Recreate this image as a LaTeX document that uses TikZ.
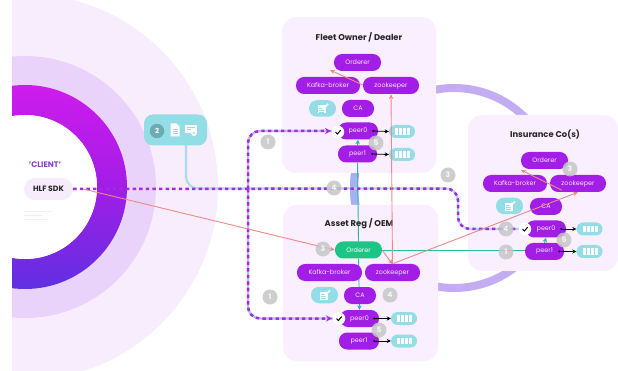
\documentclass[tikz,border=0pt]{standalone}
\usepackage{fontspec}
\setmainfont{Poppins}
\usetikzlibrary{arrows.meta,calc}
\pgfdeclarelayer{bg}\pgfdeclarelayer{lines}
\pgfsetlayers{bg,lines,main}
\definecolor{pillcol}{HTML}{A21DE6}
\definecolor{boxbg}{HTML}{F9EFFE}
\definecolor{tealbox}{HTML}{93DDE6}
\definecolor{salmon}{HTML}{EC8A86}
\definecolor{greenline}{HTML}{25C090}
\definecolor{greenpillcol}{HTML}{1CC583}
\definecolor{tealline}{HTML}{28B4AE}
\definecolor{dashcol}{HTML}{A52BE0}
\definecolor{lilac}{HTML}{C3ACF2}
\definecolor{bluebar}{HTML}{A3B3F2}
\definecolor{palelink}{HTML}{A9DCEA}
\definecolor{ringouter}{HTML}{F8EDFD}
\definecolor{ringmid}{HTML}{EAD3FA}
\definecolor{ringtop}{HTML}{CE1CEE}
\definecolor{ringbot}{HTML}{5F30E2}
\definecolor{sdkbg}{HTML}{F6ECFC}
\definecolor{clienttxt}{HTML}{8A3FD0}
\definecolor{twocol}{HTML}{6FA9B4}
\tikzset{
  x=1pt,y=-1pt,
  org/.style={fill=boxbg,rounded corners=14},
  titletext/.style={font=\fontsize{8.4}{10}\selectfont\bfseries,text=black!85},
  pillnode/.style={fill=pillcol,text=white!88!pillcol,rounded corners=8.2,minimum height=17,inner sep=0,font=\fontsize{6.4}{7}\selectfont},
  greenpill/.style={pillnode,fill=greenpillcol,text=white},
  badgenode/.style={fill=tealbox,rounded corners=8,minimum width=27,minimum height=16.5,inner sep=0},
  storenode/.style={fill=tealbox,rounded corners=6.5,minimum width=26,minimum height=13,inner sep=0},
  numnode/.style={circle,fill=gray!45,fill opacity=.85,text=white,minimum size=15,inner sep=0,font=\fontsize{7.5}{8}\selectfont\bfseries},
  chknode/.style={circle,fill=white,minimum size=12.5,inner sep=0},
  saltip/.style={salmon,line width=.9,-{Stealth[length=5,width=4.5]}},
  blacktip/.style={black,line width=.8,-{Stealth[length=4,width=4]}},
  dashline/.style={dashcol,line width=2.5,dash pattern=on 3.4pt off 3.2pt},
  dashtip/.style={dashline,-{Stealth[length=6,width=6]}},
}
\newcommand{\tickmark}[1]{\draw[black,line width=1,line cap=round] ($(#1)+(-2.4,.2)$) -- ($(#1)+(-.6,2)$) -- ($(#1)+(2.6,-1.8)$);}
\newcommand{\barsin}[1]{\foreach \dx in {-5.2,-1.2,2.8,6.8}{\fill[white] ($(#1)+(\dx-1.5,-3.4)$) rectangle ($(#1)+(\dx+1.5,3.4)$);}}
\newcommand{\penicon}[1]{\fill[white] ($(#1)+(-5,-3)$) rectangle ($(#1)+(3,5)$);
  \draw[tealbox,line width=.7] ($(#1)+(-3.5,-.5)$) -- ($(#1)+(0,-.5)$) ($(#1)+(-3.5,1.5)$) -- ($(#1)+(1.5,1.5)$) ($(#1)+(-3.5,3.5)$) -- ($(#1)+(1.5,3.5)$);
  \draw[white,line width=1.6] ($(#1)+(0,1)$) -- ($(#1)+(5.5,-4.5)$);}
\newcommand{\peerarrow}[2]{\fill[black] ($(#1.east)+(-5,0)$) circle (1.1); \draw[blacktip] ($(#1.east)+(-5,0)$) -- (#2.west);}
\begin{document}
\begin{tikzpicture}
\useasboundingbox (0,0) rectangle (618,371);
\begin{pgfonlayer}{bg}
\fill[white] (0,0) rectangle (618,371);
% client rings
\begin{scope}
\clip (12,0) rectangle (618,371);
\fill[ringouter] (25,187) circle (193);
\fill[ringmid] (25,187) circle (131);
\path[even odd rule,top color=ringtop,bottom color=ringbot,middle color=pillcol] (25,187) circle (102) (25,187) circle (72);
\fill[white] (25,187) circle (72);
\end{scope}
% faint text lines
\draw[sdkbg,line width=1] (24,212) -- (53,212) (24,216) -- (42,216) (24,220) -- (47,220);
% large arc behind the organisations
\draw[lilac,line width=8] (454,188) circle (100);
\begin{scope}
\clip (340,170) rectangle (370,210);
\draw[bluebar,line width=8] (454,188) circle (100);
\end{scope}
% organisations
\fill[org] (282,17) rectangle (436,173);
\fill[org] (283,205) rectangle (438,361);
\fill[org] (468,115) rectangle (618,271);
\end{pgfonlayer}

% client
\node[text=clienttxt,font=\fontsize{8}{9}\selectfont\bfseries] (clientlbl) at (45,165) {'CLIENT'};
\node[fill=sdkbg,rounded corners=11,minimum width=49,minimum height=22,inner sep=0,font=\fontsize{7.7}{8}\selectfont\bfseries,text=black!85] (sdk) at (48.5,189) {HLF SDK};

% credential box
\node[fill=tealbox,rounded corners=9,minimum width=63,minimum height=31,inner sep=0] (cred) at (175.5,130) {};
\node[circle,fill=twocol,minimum size=14.5,inner sep=0,text=white,font=\fontsize{7}{8}\selectfont\bfseries] (two) at (157,131) {2};
\coordinate (doc) at (175,130);
\fill[white] ($(doc)+(-4.5,-6.5)$) -- ($(doc)+(1.5,-6.5)$) -- ($(doc)+(4.5,-3.5)$) -- ($(doc)+(4.5,6.5)$) -- ($(doc)+(-4.5,6.5)$) -- cycle;
\draw[tealbox,line width=.6] ($(doc)+(-2.5,-1)$) -- ($(doc)+(2.5,-1)$) ($(doc)+(-2.5,1.2)$) -- ($(doc)+(2.5,1.2)$) ($(doc)+(-2.5,3.4)$) -- ($(doc)+(2.5,3.4)$);
\coordinate (cert) at (191,130);
\fill[white] ($(cert)+(-6,-5)$) rectangle ($(cert)+(6,3.5)$);
\draw[tealbox,line width=.6] ($(cert)+(-4,-2.5)$) -- ($(cert)+(4,-2.5)$) ($(cert)+(-4,-.5)$) -- ($(cert)+(0,-.5)$);
\fill[white] ($(cert)+(3,3)$) circle (3);
\fill[tealbox] ($(cert)+(3,3)$) circle (1.2);

% Fleet Owner / Dealer
\node[titletext] (fleetT) at (359,37) {Fleet Owner / Dealer};
\node[pillnode,minimum width=47] (ordA) at (357.5,62.5) {Orderer};
\node[pillnode,minimum width=64] (kafA) at (328,85.5) {Kafka-broker};
\node[pillnode,minimum width=56] (zooA) at (391,85.5) {zookeeper};
\node[badgenode] (penA) at (322.5,108.5) {};
\node[pillnode,minimum width=32] (caA) at (358,108.5) {CA};
\node[pillnode,minimum width=40] (p0A) at (358,131) {peer0};
\node[pillnode,minimum width=39] (p1A) at (357.5,154) {peer1};
\node[storenode] (s0A) at (402,131.5) {};
\node[storenode] (s1A) at (402,154.5) {};
% Asset Reg / OEM
\node[titletext] (assetT) at (359,224) {Asset Reg / OEM};
\node[greenpill,minimum width=47] (ordB) at (358.5,250) {Orderer};
\node[pillnode,minimum width=65] (kafB) at (329.5,272.5) {Kafka-broker};
\node[pillnode,minimum width=55] (zooB) at (392.5,272.5) {zookeeper};
\node[badgenode] (penB) at (324.5,295) {};
\node[pillnode,minimum width=32] (caB) at (360,295.5) {CA};
\node[pillnode,minimum width=39] (p0B) at (359.5,318.5) {peer0};
\node[pillnode,minimum width=40] (p1B) at (359,341) {peer1};
\node[storenode] (s0B) at (404,318.5) {};
\node[storenode] (s1B) at (404,341) {};
% Insurance
\node[titletext] (insT) at (545,135) {Insurance Co(s)};
\node[pillnode,minimum width=47] (ordC) at (544.5,160.5) {Orderer};
\node[pillnode,minimum width=64] (kafC) at (515,183.5) {Kafka-broker};
\node[pillnode,minimum width=56] (zooC) at (578,183.5) {zookeeper};
\node[badgenode] (penC) at (509.5,206) {};
\node[pillnode,minimum width=32] (caC) at (546,206.5) {CA};
\node[pillnode,minimum width=40] (p0C) at (546,229) {peer0};
\node[pillnode,minimum width=39] (p1C) at (544.5,251.5) {peer1};
\node[storenode] (s0C) at (589.5,229) {};
\node[storenode] (s1C) at (589.5,251.5) {};

\penicon{penA}\penicon{penB}\penicon{penC}
\barsin{s0A}\barsin{s1A}\barsin{s0B}\barsin{s1B}\barsin{s0C}\barsin{s1C}

% connectors under the pills
\begin{pgfonlayer}{lines}
\draw[tealline,line width=.9] (ordB.north) -- (p1A.south);
\draw[tealline,line width=.9,-{Stealth[length=4.5,width=4.5]}] (ordB.south) -- (p0B.north);
\draw[tealline,line width=.9,-{Stealth[length=4.5,width=4.5]}] (p1A.north) -- (p0A.south);
\draw[tealline,line width=.9,-{Stealth[length=4.5,width=4.5]}] (p1C.north) -- (p0C.south);
\draw[greenline,line width=.9] (ordB.east) -- (ordB.east -| p1C.west);
\draw[palelink,line width=2.2,rounded corners=12] (186,145) -- (186,188.5) -- (458,188.5) -- (458,229) -- (p0C.west);
\end{pgfonlayer}

% dashed client routes
\coordinate (railTop) at (248,131);
\coordinate (railBot) at (248,318.5);
\begin{pgfonlayer}{lines}
\draw[lilac!70!palelink,line width=2.2,rounded corners=12] (p0A.west) -- (railTop) -- (railBot) -- (p0B.west);
\end{pgfonlayer}
\draw[dashline,rounded corners=12] (sdk.east) -- (458,188.5) -- (458,229) -- (518,229);
\draw[dashtip,rounded corners=12] (railBot |- sdk.east) -- (railTop) -- (331,131);
\draw[dashtip,rounded corners=12] (railTop |- sdk.east) -- (railBot) -- (332,318.5);

% salmon connectors
\draw[saltip] ([xshift=10]sdk.east) -- (ordB.west);
\draw[saltip] (ordB.east) -- ($(zooB.north)+(0,.5)$);
\draw[saltip] (zooB.north) -- (zooA.south);
\draw[saltip] (zooB.north) -- (zooC.south);
\draw[saltip] ($(zooA.west)+(0,-.5)$) -- (330,70);
\draw[saltip] ($(zooC.south west)+(12,-2)$) -- (521,170);

% storage arrows
\peerarrow{p0A}{s0A}\peerarrow{p1A}{s1A}
\peerarrow{p0B}{s0B}\peerarrow{p1B}{s1B}
\peerarrow{p0C}{s0C}\peerarrow{p1C}{s1C}

% checks
\node[chknode] (cA) at (338,132) {};\tickmark{cA}
\node[chknode] (cB) at (339,318.5) {};\tickmark{cB}
\node[chknode] (cC) at (525,229) {};\tickmark{cC}

% numbers
\node[numnode] (n1) at (268,142) {1};
\node[numnode] (n2) at (376,143) {5};
\node[numnode] (n3) at (448,175) {3};
\node[numnode] (n4) at (334,188) {4};
\node[numnode] (n5) at (270,297) {1};
\node[numnode] (n6) at (323,249) {3};
\node[numnode] (n7) at (390,295) {4};
\node[numnode] (n8) at (379,330) {5};
\node[numnode] (n9) at (570,169) {3};
\node[numnode] (n10) at (506,229) {4};
\node[numnode] (n11) at (564,240) {5};
\node[numnode] (n12) at (506,252) {1};
\end{tikzpicture}
\end{document}
